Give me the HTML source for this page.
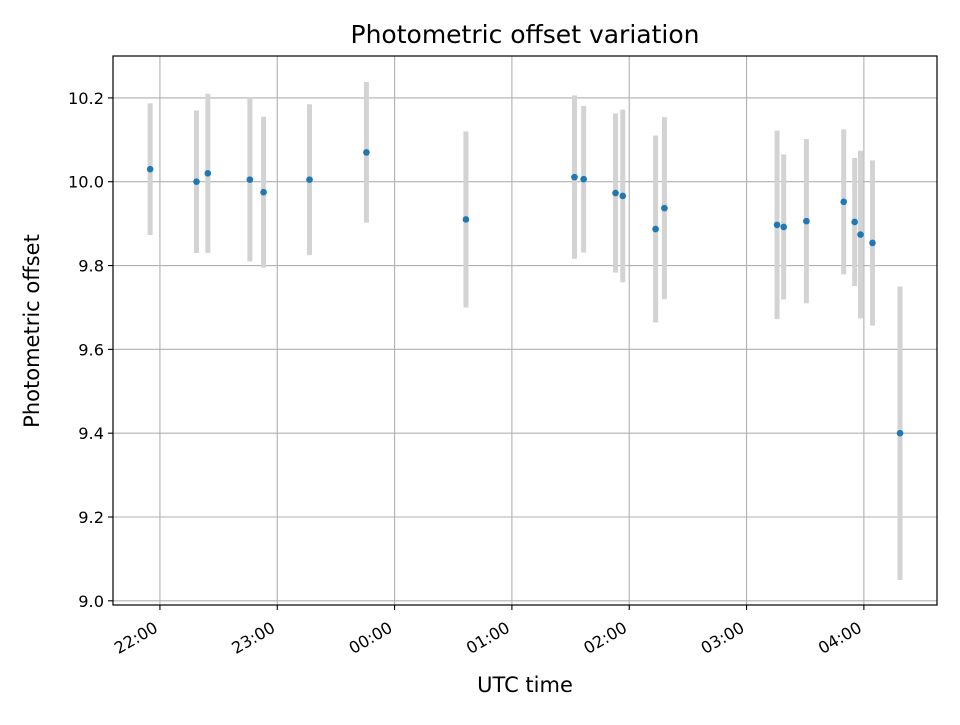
<!DOCTYPE html>
<html><head><meta charset="utf-8"><style>
body{margin:0;background:#fff}
svg text{font-family:"DejaVu Sans","Liberation Sans",sans-serif;fill:#000}
</style></head><body>
<svg id="chart" width="960" height="720" viewBox="0 0 960 720" xmlns="http://www.w3.org/2000/svg">
<rect width="960" height="720" fill="#fff"/>
<g id="grid"></g>
<g id="errs"></g>
<g id="pts"></g>
<rect x="113" y="56" width="824" height="549" fill="none" stroke="#000" stroke-width="1.2"/>
<g id="ticks"></g>
<text x="525" y="43" font-size="25" text-anchor="middle">Photometric offset variation</text>
<text x="525" y="692" font-size="21" text-anchor="middle">UTC time</text>
<text transform="translate(39,331) rotate(-90)" font-size="21" text-anchor="middle">Photometric offset</text>
</svg>
<script>
// minutes after 22:00 UTC
const times=[-5,18.7,24.5,46,53,76.5,105.6,156.5,212,216.7,233,236.7,253.5,258,315.6,319,330.6,349.7,355.3,358.3,364.4,378.5];
const offsets=[10.03,10.0,10.02,10.005,9.975,10.005,10.07,9.91,10.011,10.006,9.973,9.966,9.887,9.937,9.897,9.892,9.906,9.952,9.904,9.874,9.854,9.40];
const errors=[0.157,0.17,0.19,0.195,0.18,0.18,0.168,0.21,0.195,0.175,0.19,0.206,0.223,0.217,0.225,0.173,0.196,0.173,0.153,0.2,0.197,0.35];
const xTickMinutes=[0,60,120,180,240,300,360];
const xTickLabels=["22:00","23:00","00:00","01:00","02:00","03:00","04:00"];
const yTicks=[9.0,9.2,9.4,9.6,9.8,10.0,10.2];
const yTickLabels=["9.0","9.2","9.4","9.6","9.8","10.0","10.2"];
const L=113,R=937,T=56,B=605;
const xMin=-24,xMax=397.4,yMin=8.99,yMax=10.3;
const xs=v=>L+(v-xMin)/(xMax-xMin)*(R-L);
const ys=v=>B-(v-yMin)/(yMax-yMin)*(B-T);
const NS="http://www.w3.org/2000/svg";
function mk(tag,parent,attrs){const e=document.createElementNS(NS,tag);for(const k in attrs)e.setAttribute(k,attrs[k]);document.getElementById(parent).appendChild(e);return e;}
xTickMinutes.forEach((m,i)=>{
  const x=xs(m);
  const g=mk('line','grid',{x1:x,x2:x,y1:T,y2:B,stroke:'#b0b0b0','stroke-width':1.1});
  
  
  const t=mk('line','ticks',{x1:x,x2:x,y1:B,y2:B+5,stroke:'#000','stroke-width':1.1});
  
  
  const lb=mk('text','ticks',{x:0,y:0,'font-size':16.2,'text-anchor':'end',transform:`translate(${x-1},${B+26}) rotate(-30)`});
  lb.textContent=xTickLabels[i];
  
  
});
yTicks.forEach((v,i)=>{
  const y=ys(v);
  const g=mk('line','grid',{x1:L,x2:R,y1:y,y2:y,stroke:'#b0b0b0','stroke-width':1.1});
  
  
  const t=mk('line','ticks',{x1:L-5,x2:L,y1:y,y2:y,stroke:'#000','stroke-width':1.1});
  
  
  const lb=mk('text','ticks',{x:L-9,y:y+6,'font-size':16.2,'text-anchor':'end'});
  lb.textContent=yTickLabels[i];
  
  
});
times.forEach((m,i)=>{
  const x=xs(m);
  const e=mk('line','errs',{x1:x,x2:x,y1:ys(offsets[i]+errors[i]),y2:ys(offsets[i]-errors[i]),stroke:'#d3d3d3','stroke-width':5});
  
  
  const p=mk('circle','pts',{cx:x,cy:ys(offsets[i]),r:3.3,fill:'#1f77b4'});
  
  
});
</script>
</body></html>
